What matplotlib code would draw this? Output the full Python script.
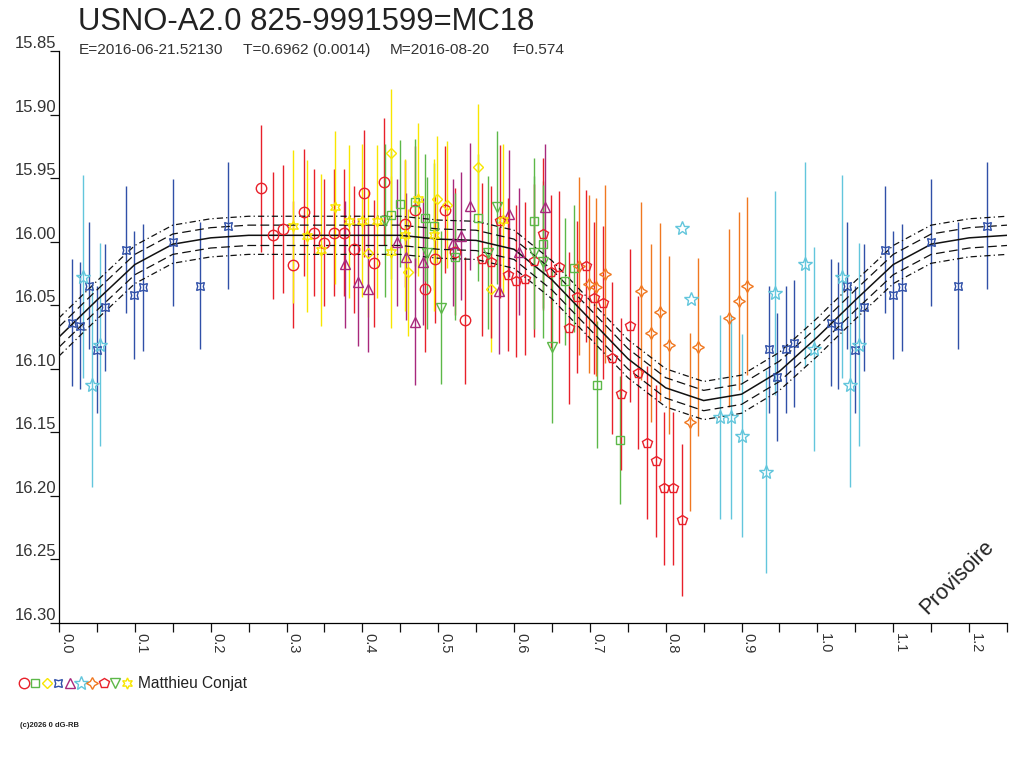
import numpy as np
import matplotlib
matplotlib.use('Agg')
import matplotlib.pyplot as plt
from matplotlib.transforms import ScaledTranslation

plt.rcParams['font.family'] = ['Liberation Sans', 'DejaVu Sans']

# model curve (phase, magnitude)
curve_phase = [0.0, 0.05, 0.10, 0.15, 0.20, 0.25, 0.30, 0.35, 0.40, 0.45, 0.50,
               0.55, 0.60, 0.65, 0.70, 0.75, 0.80, 0.85, 0.90, 0.95, 1.0]
curve_mag = [16.075, 16.046, 16.018, 16.002, 15.997, 15.995, 15.995, 15.995, 15.995,
             15.995, 15.998, 15.999, 16.006, 16.030, 16.061, 16.092, 16.115, 16.125,
             16.120, 16.102, 16.075]
band_in = 0.008
band_out = 0.015

# observations, one set per symbol
red_o_ph = [0.2665, 0.2827, 0.296, 0.309, 0.323, 0.336, 0.3496, 0.3628, 0.3764, 0.389,
            0.4028, 0.416, 0.429, 0.4565, 0.4697, 0.4828, 0.496, 0.509, 0.5224, 0.5356]
red_o_mag = [15.958, 15.995, 15.990, 16.018, 15.977, 15.993, 16.001, 15.993, 15.993, 16.006,
             15.962, 16.017, 15.953, 15.986, 15.975, 16.037, 16.014, 15.975, 16.008, 16.062]

green_s_ph = [0.4375, 0.449, 0.4697, 0.4828, 0.4947, 0.5224, 0.552, 0.6267, 0.6376,
              0.6675, 0.6785, 0.7094, 0.740]
green_s_mag = [15.979, 15.970, 15.969, 15.981, 15.988, 16.012, 15.981, 15.984, 16.002,
               16.031, 16.021, 16.1125, 16.156]

yellow_d_ph = [0.407, 0.4375, 0.4596, 0.498, 0.512, 0.5528, 0.5695]
yellow_d_mag = [16.009, 15.930, 16.024, 15.9665, 15.971, 15.9416, 16.037]

blue_ph = [0.0176, 0.0277, 0.0396, 0.0502, 0.0612, 0.0885, 0.0995, 0.111, 0.1497,
           0.186, 0.223, 0.9357, 0.947, 0.958, 0.9687]
blue_mag = [16.0636, 16.066, 16.0345, 16.085, 16.0515, 16.0065, 16.042, 16.036, 16.0005,
            16.0345, 15.9875, 16.0845, 16.1065, 16.0845, 16.080]

purple_ph = [0.3773, 0.394, 0.4068, 0.446, 0.458, 0.470, 0.4806, 0.5194, 0.530, 0.5413,
             0.580, 0.5927, 0.606, 0.641]
purple_mag = [16.0177, 16.032, 16.037, 16.0005, 16.012, 16.063, 16.0157, 16.001, 15.9955,
              15.972, 16.0385, 15.978, 16.008, 15.973]

cyan_ph = [0.032, 0.0436, 0.0546, 0.8215, 0.8334, 0.872, 0.886, 0.9006, 0.9327, 0.9437,
           0.9833, 0.995]
cyan_mag = [16.0275, 16.113, 16.081, 15.989, 16.045, 16.138, 16.138, 16.1525, 16.181,
            16.0405, 16.0175, 16.0845]
cyan_err = [0.08, 0.08, 0.08, 0.0, 0.0, 0.08, 0.08, 0.08, 0.08, 0.08, 0.08, 0.08]

orange_ph = [0.685, 0.699, 0.7085, 0.720, 0.768, 0.781, 0.792, 0.804, 0.8316, 0.843,
             0.884, 0.896, 0.907]
orange_mag = [16.019, 16.033, 16.0353, 16.0254, 16.039, 16.072, 16.055, 16.081, 16.142,
              16.0826, 16.060, 16.047, 16.035]

red_p_ph = [0.558, 0.570, 0.581, 0.592, 0.603, 0.615, 0.6267, 0.638, 0.649, 0.6587,
            0.6728, 0.683, 0.695, 0.706, 0.717, 0.7296, 0.741, 0.7524, 0.763, 0.775,
            0.787, 0.798, 0.8096, 0.8215]
red_p_mag = [16.014, 16.016, 15.984, 16.026, 16.031, 16.029, 16.015, 15.994, 16.0235, 16.020,
             16.068, 16.0437, 16.019, 16.0445, 16.048, 16.0916, 16.120, 16.066, 16.103, 16.158,
             16.1725, 16.194, 16.194, 16.219]

green_v_ph = [0.430, 0.4855, 0.504, 0.566, 0.578, 0.6257, 0.6376, 0.650]
green_v_mag = [15.9835, 16.009, 16.052, 16.0086, 15.973, 16.0086, 16.0157, 16.083]

yellow_st_ph = [0.309, 0.3276, 0.345, 0.364, 0.382, 0.400, 0.419, 0.4375, 0.4557, 0.474,
                0.4947, 0.585]
yellow_st_mag = [15.988, 15.9955, 16.0065, 15.973, 15.984, 15.9835, 15.984, 16.008, 15.9947,
                 15.9667, 15.9947, 15.983]

RED = '#e8202a'
GREEN = '#5cb848'
YELLOW = '#f8e600'
BLUE = '#3050a8'
PURPLE = '#a8287c'
CYAN = '#62c6dc'
ORANGE = '#f07820'

# (phases, mags, errors, colour, marker, size) in legend order
groups = [
    (red_o_ph, red_o_mag, 0.05, RED, 'o', 7.5),
    (green_s_ph, green_s_mag, 0.05, GREEN, 's', 6),
    (yellow_d_ph, yellow_d_mag, 0.05, YELLOW, 'D', 5.5),
    (blue_ph, blue_mag, 0.05, BLUE, (4, 1, 45), 8),
    (purple_ph, purple_mag, 0.05, PURPLE, '^', 7),
    (cyan_ph, cyan_mag, cyan_err, CYAN, '*', 10),
    (orange_ph, orange_mag, 0.07, ORANGE, (4, 1, 0), 8.5),
    (red_p_ph, red_p_mag, 0.06, RED, 'p', 7.5),
    (green_v_ph, green_v_mag, 0.06, GREEN, 'v', 7),
    (yellow_st_ph, yellow_st_mag, 0.06, YELLOW, (6, 1, 0), 8),
]

fig = plt.figure(figsize=(10.24, 7.68), dpi=100)
ax = fig.add_axes([59 / 1024, 1 - 623 / 768, (1007 - 59) / 1024, (623 - 51) / 768])
ax.set_xlim(0, 1.25)
ax.set_ylim(16.30, 15.85)
for s in ['top', 'right']:
    ax.spines[s].set_visible(False)
for s in ['left', 'bottom']:
    ax.spines[s].set_linewidth(0.9)


def wrap(ph, y):
    ph = np.asarray(ph, float)
    y = np.asarray(y, float)
    m = ph <= 0.25
    return np.concatenate([ph, ph[m] + 1]), np.concatenate([y, y[m]])


# error bars first
for ph, mag, err, col, mk, ms in groups:
    e = np.broadcast_to(np.asarray(err, float), (len(ph),))
    x, y = wrap(ph, mag)
    _, ee = wrap(ph, e)
    ax.vlines(x, y - ee, y + ee, colors=col, linewidth=1.0, zorder=2)

# model curve and its envelopes
cx, cy = wrap(curve_phase[:-1], curve_mag[:-1])
order = np.argsort(cx)
cx, cy = cx[order], cy[order]
ax.plot(cx, cy, color='#111111', lw=1.1, zorder=3)
for off in (-band_in, band_in):
    ax.plot(cx, cy + off, color='#111111', lw=0.9, dashes=(7, 3.5), zorder=3)
for off in (-band_out, band_out):
    ax.plot(cx, cy + off, color='#111111', lw=0.9, dashes=(5, 2.5, 1, 2.5), zorder=3)

# symbols on top
for ph, mag, err, col, mk, ms in groups:
    x, y = wrap(ph, mag)
    ax.plot(x, y, linestyle='none', marker=mk, ms=ms, mfc='none', mec=col, mew=1.0, zorder=4)

# ticks
xt = np.round(np.arange(0, 1.2501, 0.05), 2)
ax.set_xticks(xt)
ax.set_xticklabels(['%.1f' % t if abs(t * 10 - round(t * 10)) < 1e-6 else '' for t in xt],
                   rotation=-90, fontsize=10.5, color='#333333')
yt = np.round(np.arange(15.85, 16.3001, 0.05), 2)
ax.set_yticks(yt)
ax.set_yticklabels(['%.2f' % t for t in yt], fontsize=12, color='#333333')
ax.tick_params(axis='both', direction='out', length=6.3, width=0.9, color='#111111')
ax.tick_params(axis='x', pad=1)
ax.tick_params(axis='y', pad=-4.5)
for lab in ax.get_xticklabels():
    lab.set_ha('left')
    lab.set_va('top')
for lab in ax.get_yticklabels():
    lab.set_va('baseline')
    lab.set_transform(lab.get_transform() + ScaledTranslation(0, 0.03, fig.dpi_scale_trans))

fig.text(957 / 1024, 1 - 577 / 768, 'Provisoire', rotation=45, fontsize=15.5,
         ha='center', va='center', color='#222222')

# header and footer in pixel positions
over = fig.add_axes([0, 0, 1, 1])
over.set_xlim(0, 1024)
over.set_ylim(768, 0)
over.axis('off')
over.patch.set_visible(False)

over.text(78, 30, 'USNO-A2.0 825-9991599=MC18', fontsize=22.3, color='#222222',
          va='baseline', ha='left')
for xpos, txt in [(79, 'E=2016-06-21.52130'), (243, 'T=0.6962 (0.0014)'),
                  (390, 'M=2016-08-20'), (513, 'f=0.574')]:
    over.text(xpos, 54, txt, fontsize=11.1, color='#333333', va='baseline', ha='left')

for i, (ph, mag, err, col, mk, ms) in enumerate(groups):
    over.plot(24 + i * 11.4, 683, linestyle='none', marker=mk, ms=ms, mfc='none',
              mec=col, mew=1.0)
over.text(138, 688, 'Matthieu Conjat', fontsize=11.2, color='#222222', va='baseline', ha='left')
over.text(20, 727, '(c)2026 0 dG-RB', fontsize=5.5, color='#222222', va='baseline',
          ha='left', fontweight='bold')

fig.savefig('out.png', dpi=100)
